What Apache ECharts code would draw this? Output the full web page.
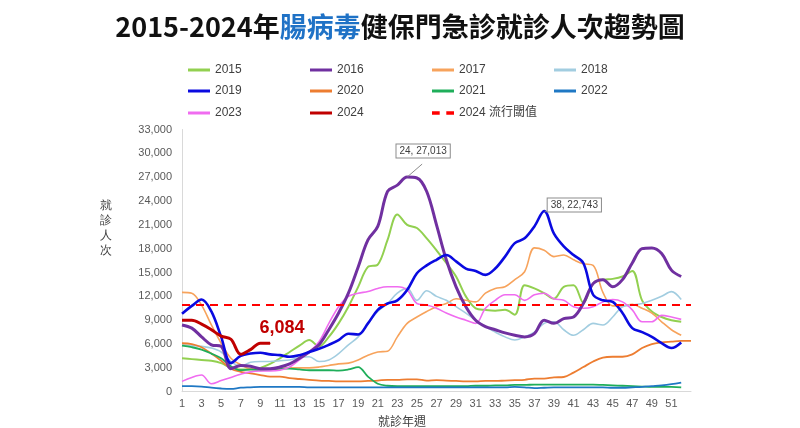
<!DOCTYPE html>
<html>
<head>
<meta charset="utf-8">
<script src="https://cdn.jsdelivr.net/npm/echarts@6/dist/echarts.min.js"></script>
<style>
html,body{margin:0;padding:0;background:#fff;}
#chart{width:800px;height:428px;}
</style>
</head>
<body>
<div id="chart"></div>
<script>
const weeks = [1,2,3,4,5,6,7,8,9,10,11,12,13,14,15,16,17,18,19,20,21,22,23,24,25,26,27,28,29,30,31,32,33,34,35,36,37,38,39,40,41,42,43,44,45,46,47,48,49,50,51,52,53];
const yTickStep = 3000;
const yMax = 33000;
const threshold = 11000;

const s2015 = [4200,4100,4000,3900,3600,3000,2800,2800,3000,3500,4200,5000,5800,6500,5700,6900,8600,10700,13200,15700,16000,19100,22300,21000,20600,19300,17800,16200,14500,12000,10500,10300,10200,10300,9700,13400,13000,12400,11700,13200,13400,11200,13600,14100,14200,14500,15200,11500,10100,9400,9000,8800];
const s2016 = [8400,8000,6900,5900,5700,2900,3300,3200,2900,2900,3100,3500,4200,5000,5900,7800,9900,12400,15700,19100,20800,25200,26000,27013,26900,25200,21000,16600,13200,10700,9000,8200,7800,7400,7100,6900,7300,9000,8600,9200,9400,11100,13600,14100,13200,14100,16200,18000,18100,17400,15300,14500];
const s2017 = [12500,12400,10900,8400,6100,4200,3400,2900,2900,2800,2900,3000,3000,3000,3100,3300,3500,3600,4000,4600,5000,5100,6900,8600,9400,10100,10700,11100,11700,11500,11300,12400,13000,13200,14100,15100,18100,17800,17000,17200,16600,16100,15900,12500,10800,10800,11000,10500,9900,8800,7800,7100];
const s2018 = [5900,5800,5700,5500,5000,3800,3200,3700,3800,3800,3900,4000,4300,4400,3800,4000,4800,5900,6900,8600,10100,11100,12400,13000,11500,12700,12000,11500,10700,9900,9000,8200,7500,6900,6500,6900,7500,8600,8800,7800,7100,7800,8600,8400,9400,10700,10900,11100,11500,12000,12600,11600];
const s2019 = [9800,10800,11600,10100,6900,3600,4500,4800,4900,4700,4600,4400,4600,5000,5400,5900,6500,7300,7200,8600,10300,11100,11500,12800,14900,15900,16600,17200,16400,15500,15200,14700,15500,17000,18700,19300,20800,22743,19900,18300,17200,16200,12200,11500,11300,9900,8000,7500,6900,6100,5500,6200];
const s2020 = [6100,6000,5600,4800,3900,2900,2500,2300,2100,1900,1900,1700,1600,1500,1400,1350,1300,1300,1300,1350,1400,1500,1500,1550,1550,1400,1450,1400,1350,1300,1300,1350,1350,1400,1450,1500,1650,1650,1800,1850,2400,3100,3800,4300,4400,4400,4700,5500,6000,6200,6300,6400,6400];
const s2021 = [5800,5600,5300,4800,4200,3200,2700,2800,2700,2800,2900,2900,2800,2700,2700,2700,2650,2800,3100,1900,1000,750,700,700,700,700,700,700,700,700,750,750,800,800,850,850,900,900,900,900,900,900,900,850,800,750,700,650,600,600,600,550];
const s2022 = [700,700,650,500,400,350,500,550,600,600,600,600,600,550,550,550,550,550,550,550,550,550,550,550,550,550,550,550,550,550,550,550,550,550,600,550,450,500,550,550,550,550,550,550,500,500,550,600,700,800,950,1150];
const s2023 = [1300,1800,2100,1000,1400,1800,2200,2500,2600,2600,2700,3100,4000,5000,6300,8600,10700,12000,12400,12600,13000,13200,13200,12800,11100,10900,10500,9900,9400,9000,8600,10500,11500,12200,12200,11500,12200,12400,11700,11500,10700,10500,10700,11300,11600,11300,10300,8800,8800,9600,9400,9100];
const s2024 = [9000,9000,8500,7800,7000,6600,4700,5300,6100,6084];

const seriesDefs = [
  {name:'2015', data:s2015, color:'#92d050', width:2},
  {name:'2016', data:s2016, color:'#7030a0', width:3},
  {name:'2017', data:s2017, color:'#f7a35c', width:1.6},
  {name:'2018', data:s2018, color:'#a2cde0', width:1.6},
  {name:'2019', data:s2019, color:'#0a0ae0', width:2.6},
  {name:'2020', data:s2020, color:'#ed7d31', width:1.8},
  {name:'2021', data:s2021, color:'#1fae5a', width:1.8},
  {name:'2022', data:s2022, color:'#1f78c4', width:1.8},
  {name:'2023', data:s2023, color:'#f06cf0', width:1.6},
  {name:'2024', data:s2024, color:'#c00000', width:3}
];
const thresholdName = '2024 流行閾值';

const callouts = {
  '2016': {index: 23, text: '24, 27,013', position: 'top', distance: 19, offset: [16, 0]},
  '2019': {index: 37, text: '38, 22,743', position: 'right', distance: 3, offset: [0, -6]}
};

function fmt(n){ return n.toLocaleString('en-US'); }

const series = seriesDefs.map(d => {
  const data = d.data.map((v, i) => {
    const c = callouts[d.name];
    if (c && c.index === i) {
      return {
        value: v, symbol: 'circle', symbolSize: 1,
        label: {
          show: true, formatter: c.text, position: c.position, distance: c.distance, offset: c.offset,
          backgroundColor: '#fff', borderColor: '#8c8c8c', borderWidth: 1,
          padding: [2, 3, 1, 3], fontSize: 10, color: '#404040', fontFamily: 'Liberation Sans'
        },
        labelLine: {show: true, length2: 0, lineStyle: {color: '#8c8c8c', width: 1}}
      };
    }
    if (d.name === '2024' && i === d.data.length - 1) {
      return {
        value: v, symbol: 'circle', symbolSize: 1,
        label: {
          show: true, formatter: fmt(v), position: 'top', distance: 6, offset: [12, 0],
          fontSize: 18, fontWeight: 'bold', color: '#c00000', fontFamily: 'Liberation Sans'
        }
      };
    }
    return v;
  });
  return {
    name: d.name, type: 'line', data: data, smooth: 0.35,
    symbol: 'none', showSymbol: true, silent: true,
    lineStyle: {color: d.color, width: d.width},
    itemStyle: {color: d.color},
    z: d.name === '2024' ? 5 : (d.name === '2016' || d.name === '2019' ? 4 : 3)
  };
});

series.push({
  name: thresholdName, type: 'line', data: [], symbol: 'none',
  lineStyle: {color: '#ff0000', width: 2, type: [8, 6]},
  itemStyle: {color: '#ff0000'},
  markLine: {
    silent: true, symbol: 'none', label: {show: false},
    lineStyle: {color: '#ff0000', width: 2, type: [8, 6]},
    data: [{yAxis: threshold}]
  },
  z: 6
});

const solidIcon = 'path://M0 0H22V3H0Z';
const dashIcon = 'path://M0 0H7V3H0Z M13 0H20V3H13Z';
const legendNames = seriesDefs.map(d => d.name).concat([thresholdName]);
const colLeft = [188, 310, 432, 554];
const rowTop = [64, 85, 107];
const legends = legendNames.map((n, i) => ({
  data: [n],
  left: colLeft[i % 4], top: rowTop[Math.floor(i / 4)],
  padding: 0,
  icon: n === thresholdName ? dashIcon : solidIcon,
  itemWidth: 22, itemHeight: 14, itemGap: 0,
  textStyle: {fontSize: 12, color: '#404040', fontFamily: 'Liberation Sans, Noto Sans CJK TC'},
  selectedMode: false
}));

const option = {
  backgroundColor: '#fff',
  animation: false,
  title: {
    left: 'center', top: 8,
    text: '{a|2015-2024年}{b|腸病毒}{a|健保門急診就診人次趨勢圖}',
    textStyle: {
      rich: {
        a: {fontSize: 27, fontWeight: 'bold', color: '#111', fontFamily: 'Noto Sans CJK TC'},
        b: {fontSize: 27, fontWeight: 'bold', color: '#1f72c6', fontFamily: 'Noto Sans CJK TC'}
      }
    }
  },
  legend: legends,
  grid: {left: 182, right: 109, top: 129.5, bottom: 36.3, containLabel: false},
  xAxis: {
    type: 'category', data: weeks, boundaryGap: false,
    axisLine: {show: true, lineStyle: {color: '#d9d9d9'}},
    axisTick: {show: false},
    axisLabel: {
      interval: 1, margin: 7, color: '#595959', fontSize: 11, fontFamily: 'Liberation Sans',
      formatter: v => (String(v) === String(weeks[weeks.length - 1]) ? '' : v)
    },
    splitLine: {show: false}
  },
  yAxis: {
    type: 'value', min: 0, max: yMax, interval: yTickStep,
    axisLine: {show: true, lineStyle: {color: '#d9d9d9'}},
    axisTick: {show: false},
    splitLine: {show: false},
    axisLabel: {margin: 10, color: '#595959', fontSize: 11, fontFamily: 'Liberation Sans', formatter: v => fmt(v)}
  },
  graphic: [
    {type: 'text', left: 100, top: 198, style: {text: '就\n診\n人\n次', fontSize: 12, lineHeight: 15, fill: '#404040', font: '12px "Noto Sans CJK TC"'}},
    {type: 'text', left: 378, top: 415, style: {text: '就診年週', fill: '#404040', font: '12px "Noto Sans CJK TC"'}}
  ],
  series: series
};

const chart = echarts.init(document.getElementById('chart'), null, {renderer: 'canvas'});
chart.setOption(option);
</script>
</body>
</html>
